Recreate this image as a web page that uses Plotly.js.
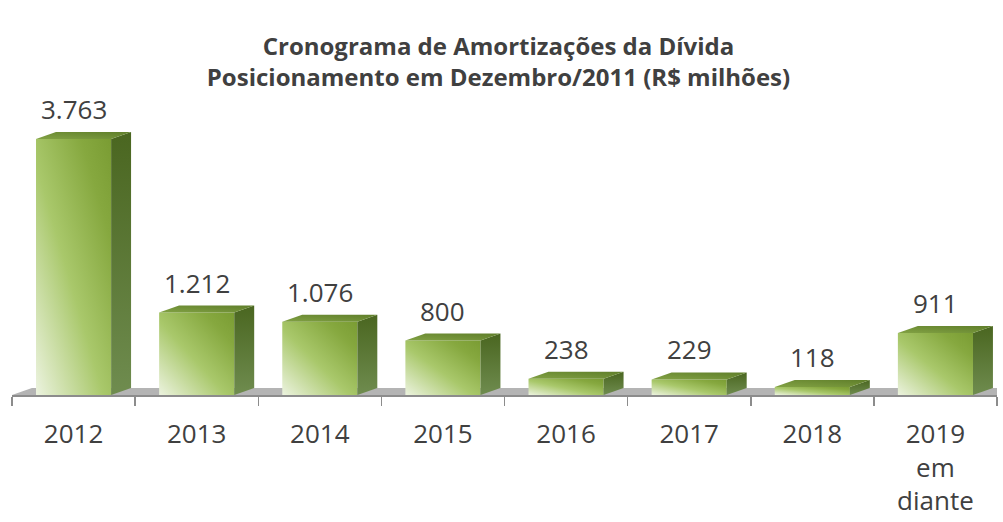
<!DOCTYPE html>
<html>
<head>
<meta charset="utf-8">
<script src="https://cdn.plot.ly/plotly-3.0.1.min.js"></script>
<style>
html,body{margin:0;padding:0;background:#fff;}
#chart{width:1003px;height:522px;}
</style>
</head>
<body>
<div id="chart"></div>
<script>
// ---- data ----
const categories = ['2012','2013','2014','2015','2016','2017','2018','2019<br>em<br>diante'];
const values = [3763, 1212, 1076, 800, 238, 229, 118, 911];
const titleLines = ['Cronograma de Amortizações da Dívida', 'Posicionamento em Dezembro/2011 (R$ milhões)'];

// ---- style constants ----
const BAR_W = 0.61;      // bar width in category units
const YMAX = 4410;       // y range max
const DEPTH_X = 0.162;   // 3D depth in category units
const DEPTH_Y = 103;     // 3D depth in value units

function fmt(v){ return String(v).replace(/\B(?=(\d{3})+(?!\d))/g, '.'); }

const idx = categories.map((_, i) => i);

const traces = [];
traces.push({
  type: 'bar', x: categories, y: values, width: BAR_W,
  marker: {color: '#9cbd5a', line: {width: 0}},
  hoverinfo: 'skip', showlegend: false
});
// side faces
idx.forEach(i => {
  const R = i + BAR_W / 2, v = values[i];
  traces.push({
    type: 'scatter', xaxis: 'x2', yaxis: 'y', mode: 'lines', fill: 'toself',
    x: [R, R + DEPTH_X, R + DEPTH_X, R, R],
    y: [0, DEPTH_Y, v + DEPTH_Y, v, 0],
    fillcolor: '#56732b', line: {width: 0}, hoverinfo: 'skip', showlegend: false
  });
});
// top faces
idx.forEach(i => {
  const L = i - BAR_W / 2, R = i + BAR_W / 2, v = values[i];
  traces.push({
    type: 'scatter', xaxis: 'x2', yaxis: 'y', mode: 'lines', fill: 'toself',
    x: [L, R, R + DEPTH_X, L + DEPTH_X, L],
    y: [v, v, v + DEPTH_Y, v + DEPTH_Y, v],
    fillcolor: '#6e8f34', line: {width: 0}, hoverinfo: 'skip', showlegend: false
  });
});

const n = categories.length;
const annotations = idx.map(i => ({
  x: i, y: values[i], xref: 'x2', yref: 'y',
  text: fmt(values[i]), showarrow: false, yanchor: 'middle', yshift: 30,
  font: {family: 'Open Sans', size: 26, color: '#404040'}
}));

const layout = {
  width: 1003, height: 522,
  margin: {l: 12, r: 6, t: 95, b: 127},
  paper_bgcolor: '#ffffff', plot_bgcolor: 'rgba(0,0,0,0)',
  showlegend: false,
  title: {
    text: '<b>' + titleLines.join('<br>') + '</b>',
    font: {family: 'Open Sans', size: 24, color: '#404040'},
    x: 0.497, xref: 'container', xanchor: 'center',
    y: 0.895, yref: 'container', yanchor: 'middle'
  },
  xaxis: {
    type: 'category', range: [-0.5, n - 0.5], fixedrange: true,
    showline: true, linecolor: '#8c8c8c', linewidth: 1.5,
    ticks: 'outside', tickson: 'boundaries', ticklen: 9, tickcolor: '#8c8c8c', tickwidth: 1.5,
    ticklabelstandoff: 15,
    tickfont: {family: 'Open Sans', size: 26, color: '#404040'},
    showgrid: false, zeroline: false
  },
  xaxis2: {
    type: 'linear', overlaying: 'x', range: [-0.5, n - 0.5], visible: false, fixedrange: true
  },
  yaxis: {range: [0, YMAX], visible: false, showgrid: false, zeroline: false, fixedrange: true},
  shapes: [{
    type: 'path', xref: 'x2', yref: 'y', layer: 'below',
    path: 'M ' + (-0.5) + ',0 L ' + (n - 0.5) + ',0 L ' + (n - 0.5 + DEPTH_X) + ',' + DEPTH_Y +
          ' L ' + (-0.5 + DEPTH_X) + ',' + DEPTH_Y + ' Z',
    fillcolor: '#b4b4b4', line: {width: 0}
  }],
  annotations: annotations
};

const gd = document.getElementById('chart');
Plotly.newPlot(gd, traces, layout, {displayModeBar: false, staticPlot: true}).then(() => {
  const NS = 'http://www.w3.org/2000/svg';
  const svg = gd.querySelector('svg.main-svg');
  let defs = svg.querySelector('defs');
  if (!defs) { defs = document.createElementNS(NS, 'defs'); svg.insertBefore(defs, svg.firstChild); }
  function grad(id, x1, y1, x2, y2, stops) {
    const g = document.createElementNS(NS, 'linearGradient');
    g.setAttribute('id', id);
    g.setAttribute('x1', x1); g.setAttribute('y1', y1);
    g.setAttribute('x2', x2); g.setAttribute('y2', y2);
    stops.forEach(s => {
      const st = document.createElementNS(NS, 'stop');
      st.setAttribute('offset', s[0]); st.setAttribute('stop-color', s[1]);
      g.appendChild(st);
    });
    defs.appendChild(g);
  }
  grad('gFront', 0, 1, 1, 0, [[0, '#ecf3df'], [0.45, '#a9c86b'], [0.8, '#86a83f'], [1, '#7a9c33']]);
  grad('gSide', 0, 0, 0, 1, [[0, '#4a6620'], [1, '#6f8c4f']]);
  grad('gTop', 0, 1, 1, 0, [[0, '#82a244'], [1, '#5f7e2a']]);
  gd.querySelectorAll('.barlayer .point path').forEach(p => { p.style.fill = 'url(#gFront)'; });
  const st = gd.querySelectorAll('.scatterlayer .trace');
  st.forEach((t, k) => {
    const f = t.querySelector('.js-fill');
    if (f) f.style.fill = k < n ? 'url(#gSide)' : 'url(#gTop)';
  });
});
</script>
</body>
</html>
